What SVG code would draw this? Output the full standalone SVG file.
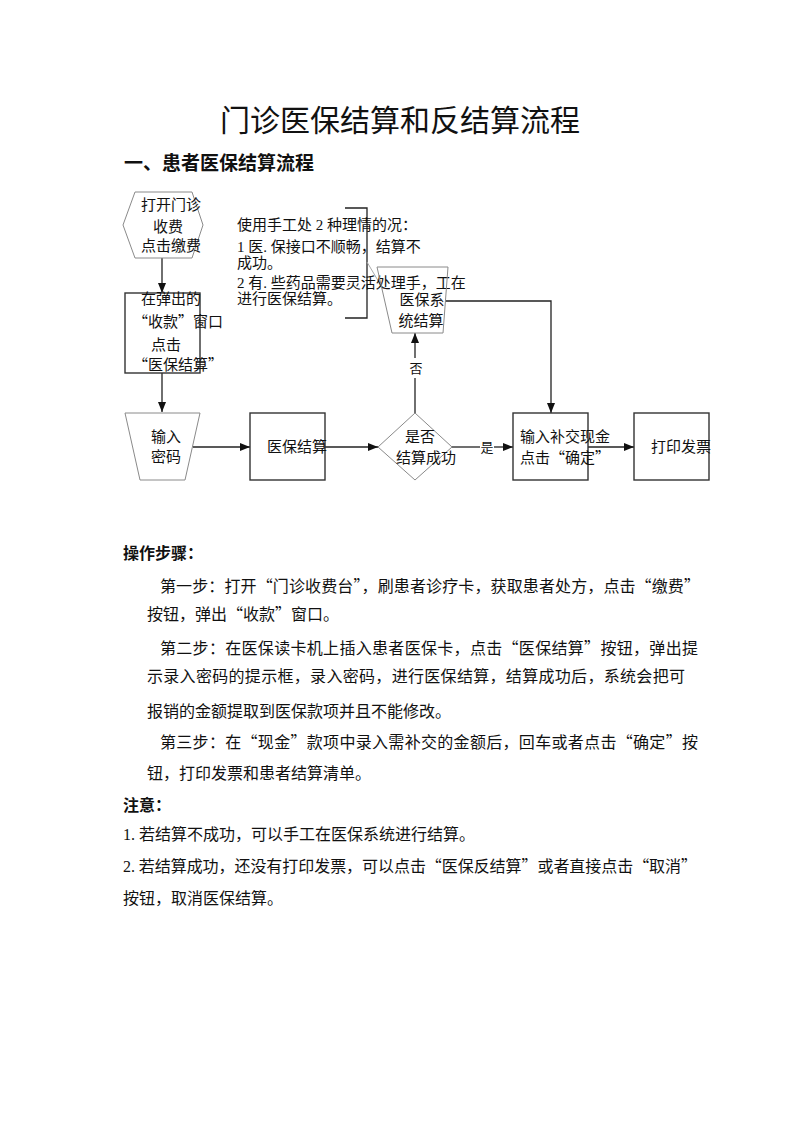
<svg xmlns="http://www.w3.org/2000/svg" width="800" height="1132" viewBox="0 0 800 1132">
<style>
text{font-family:"Liberation Serif","Noto Sans CJK SC",serif;fill:#111}
.n{font-size:15px}
.c{text-anchor:middle}
.b{font-size:16px}
.q{font-family:"Noto Sans CJK SC",sans-serif;font-feature-settings:"fwid"}
.thin{fill:none;stroke:#8a8a8a;stroke-width:1}
.box{fill:none;stroke:#333;stroke-width:1.4}
.ln{fill:none;stroke:#222;stroke-width:1.3}
.lbl{font-size:13px}
</style>
<defs>
<marker id="ah" viewBox="0 0 10 10" refX="10" refY="5" markerWidth="10" markerHeight="10" markerUnits="userSpaceOnUse" orient="auto">
<path d="M0,1 L10,5 L0,9 Z" fill="#111"/>
</marker>
</defs>
<rect width="800" height="1132" fill="#fff"/>
<text x="400" y="131" class="c" style="font-size:30px">门诊医保结算和反结算流程</text>
<text x="124" y="170" style="font-size:19px;font-weight:bold">一、患者医保结算流程</text>

<g id="connectors">
<line class="ln" x1="162" y1="258" x2="162" y2="293" marker-end="url(#ah)"/>
<line class="ln" x1="162" y1="373" x2="162" y2="412" marker-end="url(#ah)"/>
<line class="ln" x1="193" y1="447" x2="250" y2="447" marker-end="url(#ah)"/>
<line class="ln" x1="325" y1="447" x2="378" y2="447" marker-end="url(#ah)"/>
<line class="ln" x1="452" y1="447" x2="480" y2="447"/>
<line class="ln" x1="494" y1="447" x2="513" y2="447" marker-end="url(#ah)"/>
<text x="487" y="452" class="c lbl">是</text>
<line class="ln" x1="415" y1="413" x2="415" y2="378"/>
<line class="ln" x1="415" y1="358" x2="415" y2="333" marker-end="url(#ah)"/>
<text x="416" y="373" class="c lbl">否</text>
<polyline class="ln" points="445,301 551,301 551,413" marker-end="url(#ah)"/>
<line class="ln" x1="588" y1="447" x2="634" y2="447" marker-end="url(#ah)"/>
<polyline class="ln" points="345,208 367,208 367,318 345,318"/>
<line x1="367" y1="262" x2="383" y2="289" stroke="#aaa" stroke-width="1"/>
</g>

<g id="note">
<text x="237" y="230" class="n">使用手工处 2 种理情的况：</text>
<text x="237" y="252" class="n">1 医. 保接口不顺畅，结算不</text>
<text x="237" y="268" class="n">成功。</text>
<text x="237" y="288" class="n">2 有. 些药品需要灵活处理手，工在</text>
<text x="237" y="304" class="n">进行医保结算。</text>
</g>

<g id="n-open">
<polygon class="thin" points="123,225 135,192 192,192 203,225 192,258 135,258"/>
<text x="171" y="210" class="n c">打开门诊</text>
<text x="168" y="232" class="n c">收费</text>
<text x="171" y="251" class="n c">点击缴费</text>
</g>

<g id="n-window">
<rect class="box" x="125" y="293" width="75" height="80"/>
<text x="171" y="304" class="n c">在弹出的</text>
<text x="178" y="327" class="n c"><tspan class="q">“</tspan>收款<tspan class="q">”</tspan>窗口</text>
<text x="166" y="350" class="n c">点击</text>
<text x="178" y="370" class="n c"><tspan class="q">“</tspan>医保结算<tspan class="q">”</tspan></text>
</g>

<g id="n-pwd">
<polygon class="thin" points="125,413 200,413 185,480 140,480"/>
<text x="166" y="442" class="n c">输入</text>
<text x="166" y="462" class="n c">密码</text>
</g>

<g id="n-settle">
<rect class="box" x="250" y="413" width="75" height="67"/>
<text x="297" y="452" class="n c">医保结算</text>
</g>

<g id="n-decide">
<polygon class="thin" points="378,447 415,413 452,447 415,480"/>
<text x="420" y="442" class="n c">是否</text>
<text x="426" y="463" class="n c">结算成功</text>
</g>

<g id="n-manual">
<polygon class="thin" points="377,267 448,267 443,333 392,333"/>
<text x="422" y="305" class="n c">医保系</text>
<text x="421" y="326" class="n c">统结算</text>
</g>

<g id="n-cash">
<rect class="box" x="513" y="413" width="75" height="67"/>
<text x="520" y="442" class="n">输入补交现金</text>
<text x="520" y="463" class="n">点击<tspan class="q">“</tspan>确定<tspan class="q">”</tspan></text>
</g>

<g id="n-print">
<rect class="box" x="634" y="413" width="75" height="67"/>
<text x="651" y="452" class="n">打印发票</text>
</g>

<g id="body">
<text x="123" y="559" class="b" style="font-weight:bold">操作步骤：</text>
<text x="160" y="592" class="b" textLength="540" lengthAdjust="spacing">第一步：打开<tspan class="q">“</tspan>门诊收费台<tspan class="q">”</tspan>，刷患者诊疗卡，获取患者处方，点击<tspan class="q">“</tspan>缴费<tspan class="q">”</tspan></text>
<text x="147" y="620" class="b">按钮，弹出<tspan class="q">“</tspan>收款<tspan class="q">”</tspan>窗口。</text>
<text x="160" y="654" class="b" textLength="538" lengthAdjust="spacing">第二步：在医保读卡机上插入患者医保卡，点击<tspan class="q">“</tspan>医保结算<tspan class="q">”</tspan>按钮，弹出提</text>
<text x="147" y="682" class="b" textLength="538" lengthAdjust="spacing">示录入密码的提示框，录入密码，进行医保结算，结算成功后，系统会把可</text>
<text x="147" y="717" class="b">报销的金额提取到医保款项并且不能修改。</text>
<text x="160" y="748" class="b" textLength="538" lengthAdjust="spacing">第三步：在<tspan class="q">“</tspan>现金<tspan class="q">”</tspan>款项中录入需补交的金额后，回车或者点击<tspan class="q">“</tspan>确定<tspan class="q">”</tspan>按</text>
<text x="147" y="779" class="b">钮，打印发票和患者结算清单。</text>
<text x="123" y="811" class="b" style="font-weight:bold">注意：</text>
<text x="123" y="840" class="b">1. 若结算不成功，可以手工在医保系统进行结算。</text>
<text x="123" y="872" class="b" textLength="574" lengthAdjust="spacing">2. 若结算成功，还没有打印发票，可以点击<tspan class="q">“</tspan>医保反结算<tspan class="q">”</tspan>或者直接点击<tspan class="q">“</tspan>取消<tspan class="q">”</tspan></text>
<text x="123" y="904" class="b">按钮，取消医保结算。</text>
</g>
</svg>
